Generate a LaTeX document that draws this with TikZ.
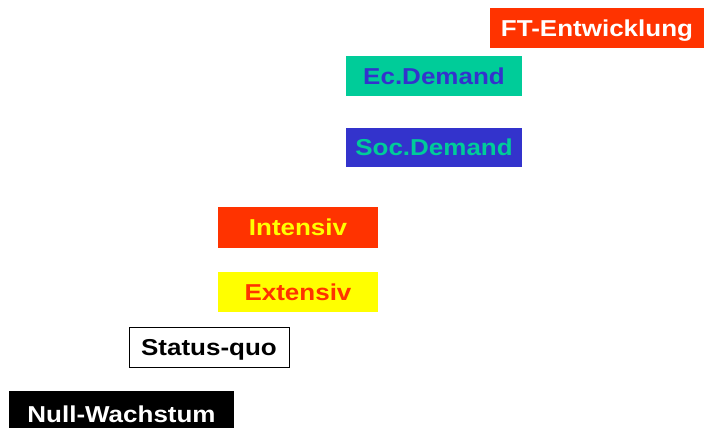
\documentclass[tikz,border=0pt]{standalone}
\usepackage{fontspec}
\setmainfont[FakeStretch=1.13]{Liberation Sans}
\definecolor{cred}{HTML}{FF3300}
\definecolor{cteal}{HTML}{00CC99}
\definecolor{cblue}{HTML}{3333CC}
\definecolor{cyellow}{HTML}{FFFF00}
\begin{document}
\begin{tikzpicture}[x=1pt,y=1pt,
  lab/.style={inner sep=0pt, text height=16.5pt, text depth=0pt,
    font=\fontsize{23}{25}\selectfont\bfseries, align=center}]
\useasboundingbox (0,0) rectangle (705,-428);
\fill[white] (0,0) rectangle (705,-428);
\node[lab, fill=cred, text=white, minimum width=214pt, minimum height=40pt] (ft) at (597,-28) {FT-Entwicklung};
\node[lab, fill=cteal, text=cblue, minimum width=176pt, minimum height=40pt] (ec) at (434,-76) {Ec.Demand};
\node[lab, fill=cblue, text=cteal, minimum width=176pt, minimum height=39pt] (soc) at (434,-147.5) {Soc.Demand};
\node[lab, fill=cred, text=cyellow, minimum width=160pt, minimum height=41pt] (int) at (298,-227.5) {Intensiv};
\node[lab, fill=cyellow, text=cred, minimum width=160pt, minimum height=40pt] (ext) at (298,-292) {Extensiv};
\node[lab, draw=black, line width=0.8pt, fill=white, text=black, minimum width=160pt, minimum height=40pt] (sq) at (209,-347) {Status-quo};
\node[lab, fill=black, text=white, minimum width=225pt, minimum height=47pt] (null) at (121.5,-414.5) {Null-Wachstum};
\end{tikzpicture}
\end{document}
